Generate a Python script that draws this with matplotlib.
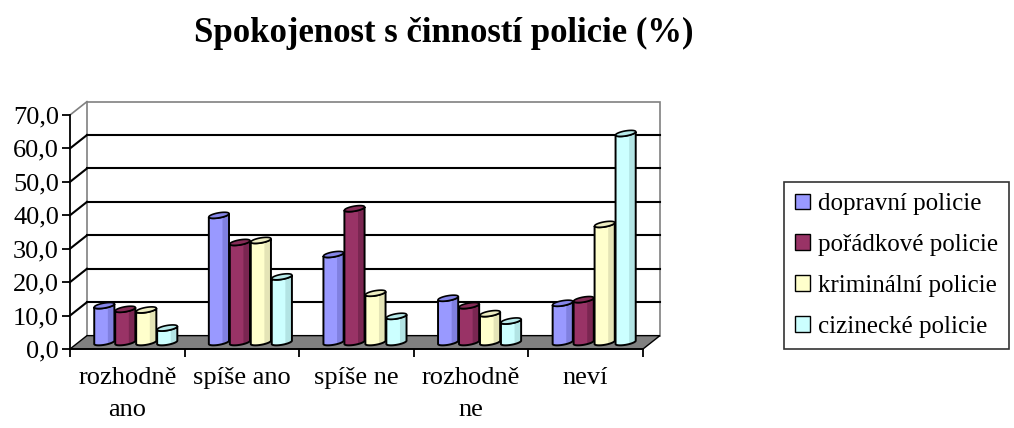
import numpy as np
import matplotlib
matplotlib.use('Agg')
import matplotlib.pyplot as plt
from matplotlib.patches import Patch, Polygon

# data (%)
categories = ['rozhodně\nano', 'spíše ano', 'spíše ne', 'rozhodně\nne', 'neví']
series = ['dopravní policie', 'pořádkové policie', 'kriminální policie', 'cizinecké policie']
dopravni = [11.0, 38.0, 26.3, 13.2, 11.7]
poradkove = [9.9, 29.9, 40.0, 11.0, 12.8]
kriminalni = [9.7, 30.5, 14.7, 8.6, 35.3]
cizinecke = [4.3, 19.6, 7.8, 6.4, 62.5]
yticks = [0, 10, 20, 30, 40, 50, 60, 70]
ytick_labels = ['0,0', '10,0', '20,0', '30,0', '40,0', '50,0', '60,0', '70,0']

face = ['#9999FF', '#993366', '#FFFFCC', '#CCFFFF']
shade = ['#8080E0', '#7A2651', '#E4E4B6', '#B2E4E4']
topc = ['#8585E8', '#862C57', '#EDEDC2', '#B8EAEA']

plt.rcParams['font.family'] = ['Liberation Serif', 'DejaVu Serif']

W, H = 1014, 428
fig = plt.figure(figsize=(W / 100, H / 100), dpi=100)
ax = fig.add_axes([70 / W, 79 / H, 573 / W, 234 / H])
ncat = len(categories)
ymax = 70
ax.set_xlim(0, ncat)
ax.set_ylim(0, ymax)

# pseudo 3D depth offset (in data units)
DX, DY = 0.148, 4.0

# back wall
ax.add_patch(Polygon([(DX, DY), (ncat + DX, DY), (ncat + DX, ymax + DY), (DX, ymax + DY)],
                     closed=True, facecolor='white', edgecolor='#808080', lw=1.2,
                     clip_on=False, zorder=0))
for v in yticks[1:-1]:
    ax.plot([DX, ncat + DX], [v + DY, v + DY], color='black', lw=1.5, clip_on=False, zorder=1)
    ax.plot([0, DX], [v, v + DY], color='black', lw=1.5, clip_on=False, zorder=1)
ax.plot([0, DX], [ymax, ymax + DY], color='#808080', lw=1.2, clip_on=False, zorder=1)

# floor
ax.add_patch(Polygon([(0, 0), (ncat, 0), (ncat + DX, DY), (DX, DY)], closed=True,
                     facecolor='#808080', edgecolor='black', lw=1, clip_on=False, zorder=2))

# cylinders
values = [dopravni, poradkove, kriminalni, cizinecke]
step, bw = 0.183, 0.176
hw = bw / 2
eh, sl = 0.75, 0.5
base = DY / 2
t_front = np.linspace(np.pi, 2 * np.pi, 40)
t_all = np.linspace(0, 2 * np.pi, 80)
t0 = 2 * np.pi - np.arccos(0.35)
t_sh = np.linspace(t0, 2 * np.pi, 20)

for i, vals in enumerate(values):
    centers = np.arange(ncat) + 0.5 + DX / 2 + (i - 1.5) * step
    for xc, v in zip(centers, vals):
        top = base + v
        bx = xc + hw * np.cos(t_front)
        by_b = base + sl * np.cos(t_front) + eh * np.sin(t_front)
        by_t = top + sl * np.cos(t_front) + eh * np.sin(t_front)
        ax.fill(np.r_[bx, bx[::-1]], np.r_[by_b, by_t[::-1]], facecolor=face[i],
                edgecolor='none', clip_on=False, zorder=3)
        sx = xc + hw * np.cos(t_sh)
        sy_b = base + sl * np.cos(t_sh) + eh * np.sin(t_sh)
        sy_t = top + sl * np.cos(t_sh) + eh * np.sin(t_sh)
        ax.fill(np.r_[sx, sx[::-1]], np.r_[sy_b, sy_t[::-1]], facecolor=shade[i],
                edgecolor='none', clip_on=False, zorder=3)
        ax.fill(np.r_[bx, bx[::-1]], np.r_[by_b, by_t[::-1]], facecolor='none',
                edgecolor='black', lw=1.4, clip_on=False, zorder=4)
        ax.fill(xc + hw * np.cos(t_all), top + sl * np.cos(t_all) + eh * np.sin(t_all),
                facecolor=topc[i], edgecolor='black', lw=1.2, clip_on=False, zorder=5)

# axes look
for s in ['top', 'right']:
    ax.spines[s].set_visible(False)
ax.spines['left'].set_linewidth(1.3)
ax.spines['bottom'].set_linewidth(1.3)
ax.spines['left'].set_zorder(6)
ax.spines['bottom'].set_zorder(6)
ax.patch.set_visible(False)

ax.set_yticks(yticks)
ax.set_yticklabels(ytick_labels, fontsize=19)
ax.tick_params(axis='y', direction='out', length=6, width=1.3, pad=2)

ax.set_xticks(np.arange(ncat + 1))
ax.set_xticklabels([])
ax.tick_params(axis='x', which='major', direction='out', length=6, width=1.3)
ax.set_xticks(np.arange(ncat) + 0.5, minor=True)
ax.set_xticklabels(categories, minor=True, fontsize=19, linespacing=1.6)
ax.tick_params(axis='x', which='minor', length=0, pad=13)

fig.text(444 / W, 1 - 42 / H, 'Spokojenost s činností policie (%)', ha='center', va='baseline',
         fontsize=25, fontweight='bold')

handles = [Patch(facecolor=face[i], edgecolor='black', lw=1) for i in range(4)]
leg = fig.legend(handles=handles, labels=series, loc='upper left',
                 bbox_to_anchor=(784 / W, 1 - 182 / H), frameon=True, fancybox=False,
                 edgecolor='black', fontsize=18, handlelength=0.6, handleheight=0.6,
                 handletextpad=0.3, labelspacing=0.75, borderpad=0.45, borderaxespad=0)
leg.get_frame().set_linewidth(1.2)

fig.savefig('out.png', dpi=100)
